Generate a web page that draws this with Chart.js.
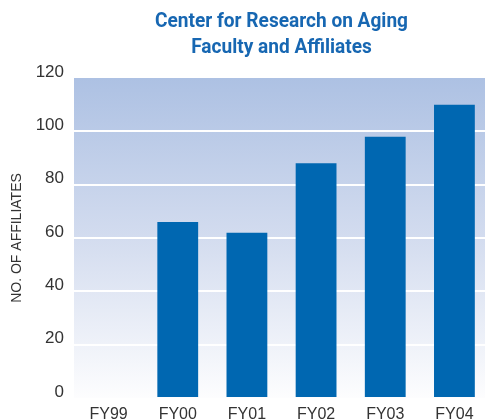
<!DOCTYPE html>
<html>
<head>
<meta charset="utf-8">
<script src="https://cdn.jsdelivr.net/npm/chart.js@4"></script>
<style>
  html, body { margin: 0; padding: 0; background: #ffffff; overflow: hidden; }
  /* plot runs a few px past the right edge of the window, as in the reference */
  #wrap { width: 489px; height: 420px; position: relative; }
</style>
</head>
<body>
<div id="wrap"><canvas id="chart"></canvas></div>
<script>
// data
const categories = ['FY99', 'FY00', 'FY01', 'FY02', 'FY03', 'FY04'];
const affiliates = [null, 66, 62, 88, 98, 110];
const yMin = 0;
const yMax = 120;
const yStep = 20;

const titleLines = ['Center for Research on Aging', 'Faculty and Affiliates'];
const yTitle = 'NO. OF AFFILIATES';

// gradient behind the plot area
const plotBackground = {
    id: 'plotBackground',
    beforeDraw(chart) {
        const { ctx, chartArea } = chart;
        if (!chartArea) return;
        const g = ctx.createLinearGradient(0, chartArea.top, 0, chartArea.bottom);
        g.addColorStop(0, '#adc1e3');
        g.addColorStop(0.5, '#d3dcef');
        g.addColorStop(1, '#fdfdfe');
        ctx.save();
        ctx.fillStyle = g;
        ctx.fillRect(chartArea.left, chartArea.top, chartArea.right - chartArea.left, chartArea.bottom - chartArea.top);
        ctx.restore();
    }
};

// condensed bold title (no narrow font installed, so squeeze it)
const condensedTitle = {
    id: 'condensedTitle',
    afterDraw(chart) {
        const { ctx, chartArea } = chart;
        const cx = (chartArea.left + chartArea.right) / 2;
        ctx.save();
        ctx.font = "bold 21px Roboto, 'Liberation Sans', sans-serif";
        const sx = 253 / ctx.measureText(titleLines[0]).width;
        ctx.fillStyle = '#1767b2';
        ctx.textAlign = 'center';
        ctx.textBaseline = 'alphabetic';
        [27, 53].forEach((y, i) => {
            ctx.save();
            ctx.translate(cx, y);
            ctx.scale(sx, 1);
            ctx.fillText(titleLines[i], 0, 0);
            ctx.restore();
        });
        ctx.restore();
    }
};

const ctx = document.getElementById('chart').getContext('2d');
new Chart(ctx, {
    type: 'bar',
    data: {
        labels: categories,
        datasets: [{
            data: affiliates,
            backgroundColor: '#0067b1',
            borderWidth: 0,
            barPercentage: 0.59,
            categoryPercentage: 1
        }]
    },
    options: {
        responsive: true,
        maintainAspectRatio: false,
        animation: false,
        layout: { padding: { left: 0, right: 0, top: 78, bottom: 0 } },
        scales: {
            y: {
                min: yMin,
                max: yMax,
                afterFit: (scale) => { scale.width = 74; },
                ticks: {
                    stepSize: yStep,
                    padding: 10,
                    labelOffset: -6,
                    color: '#333333',
                    font: { family: "'Liberation Sans', Arial, sans-serif", size: 17 }
                },
                grid: {
                    drawTicks: false,
                    lineWidth: 2,
                    color: (c) => (c.tick && (c.tick.value === yMin || c.tick.value === yMax)) ? 'rgba(0,0,0,0)' : '#ffffff'
                },
                border: { display: false },
                title: {
                    display: true,
                    text: yTitle,
                    color: '#333333',
                    padding: { top: 9, bottom: 0 },
                    font: { family: "'Liberation Sans', Arial, sans-serif", size: 14 }
                }
            },
            x: {
                afterFit: (scale) => { scale.height = 22; },
                ticks: {
                    padding: 7,
                    color: '#333333',
                    font: { family: "'Liberation Sans', Arial, sans-serif", size: 16 }
                },
                grid: { display: false, drawTicks: false },
                border: { display: false }
            }
        },
        plugins: {
            legend: { display: false },
            tooltip: { enabled: false },
            title: { display: false }
        }
    },
    plugins: [plotBackground, condensedTitle]
});
</script>
</body>
</html>
